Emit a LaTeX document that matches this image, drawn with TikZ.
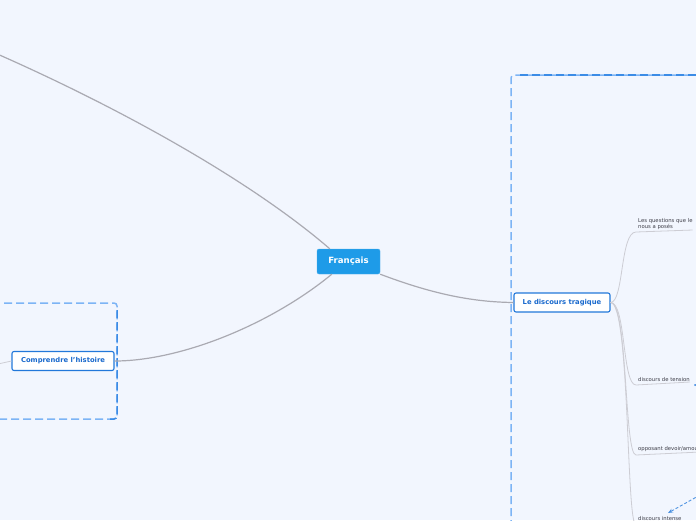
\documentclass[tikz,border=0pt]{standalone}
\usepackage{fontspec}
\setmainfont{DejaVu Sans}
\usetikzlibrary{arrows.meta}
\definecolor{bgc}{RGB}{242,246,254}
\definecolor{cblue}{RGB}{30,155,232}
\definecolor{tblue}{RGB}{34,120,218}
\definecolor{ttext}{RGB}{25,105,205}
\definecolor{fdark}{RGB}{60,140,230}
\definecolor{flight}{RGB}{125,180,245}
\definecolor{conng}{RGB}{170,170,178}
\definecolor{subg}{RGB}{205,205,212}
\definecolor{subt}{RGB}{60,60,70}
\tikzset{
  central/.style={fill=cblue, draw=cblue!80!white, text=white, font=\fontsize{8.6}{10}\selectfont\bfseries,
    minimum width=63pt, minimum height=25pt, rounded corners=2pt, inner sep=0pt},
  topic/.style={fill=white, draw=tblue, line width=1.1pt, text=ttext, font=\fontsize{6.8}{8}\selectfont\bfseries,
    minimum height=19pt, rounded corners=2pt, inner sep=0pt},
  subl/.style={text=subt, font=\fontsize{5.3}{6.5}\selectfont, anchor=south west, inner sep=0pt, align=left},
  conn/.style={draw=conng, line width=1.2pt},
  subc/.style={draw=subg, line width=0.8pt},
  frame/.style={line width=1.5pt, dash pattern=on 8pt off 4pt, rounded corners=3pt},
}
\begin{document}
\begin{tikzpicture}[x=1pt,y=-1pt]
\fill[bgc] (0,0) rectangle (696,520);
\useasboundingbox (0,0) rectangle (696,520);
\clip (0,0) rectangle (696,520);
% frames
\draw[frame, flight] (511,540) -- (511,75) -- (720,75);
\draw[frame, fdark] (520,75) -- (720,75);
\draw[frame, flight] (-20,303) -- (117,303) -- (117,419) -- (-20,419);
\draw[frame, fdark] (117,310) -- (117,419) -- (110,419);
% nodes
\node[central] (fr) at (348.5,261.5) {Français};
\node[topic, minimum width=102pt] (ch) at (63,361) {Comprendre l'histoire};
\node[topic, minimum width=96pt] (dt) at (562,302.5) {Le discours tragique};
\node[subl] (q) at (638,230) {Les questions que le\\nous a posés};
\node[subl] (t) at (638,382) {discours de tension};
\node[subl] (o) at (638,452) {opposant devoir/amour};
\node[subl] (i) at (638,520.5) {discours intense};
\coordinate (tl) at (-5,53);
\coordinate (lf) at (-2,364);
\coordinate (ar) at (700,495);
\coordinate (ae) at (668,513);
% main connectors
\draw[conn] ([xshift=13pt]fr.north west) .. controls (250,180) and (120,108) .. (tl);
\draw[conn] ([xshift=15pt]fr.south west) .. controls (270,325) and (180,361) .. (ch.east);
\draw[conn] (fr.south east) .. controls (430,293) and (470,302) .. (dt.west);
\draw[subc] (ch.west) -- (lf);
% sub branches
\draw[subc] (dt.east) .. controls (624,302) and (620,232) .. (636,232) -- (q.south east);
\draw[subc] (dt.east) .. controls (626,302) and (622,385) .. (636,385) -- (t.south east);
\draw[subc] (dt.east) .. controls (628,302) and (624,455) .. (636,455) -- (o.south east);
\draw[subc] (dt.east) .. controls (630,302) and (626,525) .. (636,525) -- (700,525);
\fill[tblue] (695,385) circle (1pt);
% dashed arrow
\draw[tblue!80!white, line width=0.9pt, dash pattern=on 3pt off 2pt, -{Stealth[length=5pt,width=4pt]}] (ar) -- (ae);
\end{tikzpicture}
\end{document}
